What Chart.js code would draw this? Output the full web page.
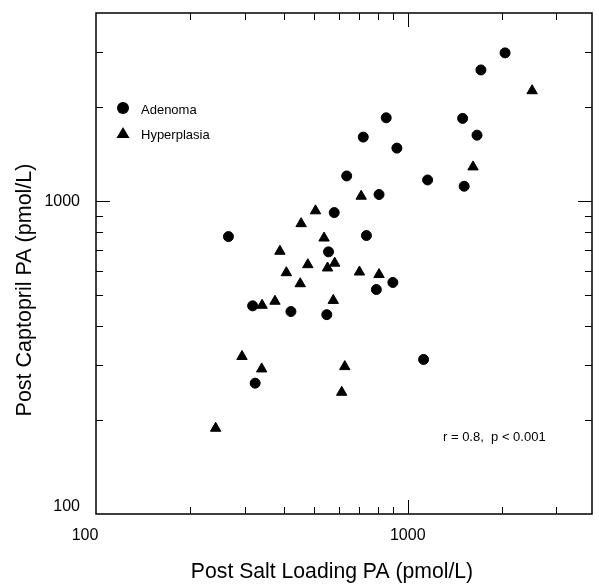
<!DOCTYPE html>
<html>
<head>
<meta charset="utf-8">
<title>Post Salt Loading PA vs Post Captopril PA</title>
<script src="https://cdn.jsdelivr.net/npm/chart.js@4.4.1/dist/chart.umd.min.js"></script>
<style>
    html, body { margin: 0; padding: 0; background: #fff; }
    #wrap { position: relative; width: 599px; height: 586px; }
</style>
</head>
<body>
<div id="wrap"><canvas id="paChart"></canvas></div>
<script>
// Adenoma patients (pmol/L)
const adenomaSalt = [266, 318, 422, 557, 550, 324, 581, 637, 737, 809, 720, 853, 923, 1158, 793, 896, 1124, 1500, 1668, 1517, 1717, 2052];
const adenomaCaptopril = [771, 463, 444, 689, 434, 262, 920, 1205, 777, 1051, 1604, 1849, 1479, 1170, 522, 550, 312, 1841, 1627, 1117, 2630, 2982];

// Hyperplasia patients (pmol/L)
const hyperplasiaSalt = [506, 455, 539, 389, 478, 553, 583, 408, 452, 341, 375, 709, 700, 809, 577, 294, 340, 242, 628, 614, 1620, 2506];
const hyperplasiaCaptopril = [932, 848, 763, 692, 627, 612, 634, 591, 545, 465, 479, 1038, 594, 583, 482, 319, 291, 188, 296, 245, 1288, 2257];

// Axis labels and text
const xTickLabels = [100, 1000];
const yTickLabels = [100, 1000];
const seriesNames = ["Adenoma", "Hyperplasia"];
const xTitle = "Post Salt Loading PA (pmol/L)";
const yTitle = "Post Captopril PA (pmol/L)";
const statsText = "r = 0.8,  p < 0.001";

const FONT = '"Liberation Sans", Arial, sans-serif';

// Frame, inward ticks, tick labels, titles, legend and stats text
const axisDecor = {
    id: "axisDecor",
    afterDatasetsDraw(chart) {
        const { ctx, chartArea: a, scales: { x, y } } = chart;
        ctx.save();
        ctx.strokeStyle = "#000";
        ctx.fillStyle = "#000";

        // box
        ctx.lineWidth = 1.5;
        ctx.strokeRect(a.left, a.top, a.right - a.left, a.bottom - a.top);

        // log ticks on all four sides, pointing in
        ctx.lineWidth = 1;
        ctx.beginPath();
        [100, 1000].forEach(decade => {
            for (let m = 1; m <= 9; m++) {
                const v = m * decade;
                const len = m === 1 ? 14 : 7;
                if (v > x.min && v < x.max) {
                    const px = Math.round(x.getPixelForValue(v)) + 0.5;
                    ctx.moveTo(px, a.bottom); ctx.lineTo(px, a.bottom - len);
                    ctx.moveTo(px, a.top); ctx.lineTo(px, a.top + len);
                }
                if (v > y.min && v < y.max) {
                    const py = Math.round(y.getPixelForValue(v)) + 0.5;
                    ctx.moveTo(a.left, py); ctx.lineTo(a.left + len, py);
                    ctx.moveTo(a.right, py); ctx.lineTo(a.right - len, py);
                }
            }
        });
        ctx.stroke();

        // tick labels
        ctx.font = "16px " + FONT;
        ctx.textBaseline = "middle";
        ctx.textAlign = "center";
        xTickLabels.forEach(v => {
            const shift = v === x.min ? -11 : 0;
            ctx.fillText(String(v), x.getPixelForValue(v) + shift, a.bottom + 22);
        });
        ctx.textAlign = "right";
        yTickLabels.forEach(v => {
            const shift = v === y.min ? -7 : 0;
            ctx.fillText(String(v), a.left - 16, y.getPixelForValue(v) + shift);
        });

        // axis titles
        ctx.font = "21.2px " + FONT;
        ctx.textAlign = "center";
        ctx.fillText(xTitle, 332, 572);
        ctx.save();
        ctx.translate(25, 290);
        ctx.rotate(-Math.PI / 2);
        ctx.font = "21.5px " + FONT;
        ctx.fillText(yTitle, 0, 0);
        ctx.restore();

        // legend
        ctx.beginPath();
        ctx.arc(123, 108, 6, 0, Math.PI * 2);
        ctx.fill();
        ctx.beginPath();
        ctx.moveTo(123, 127);
        ctx.lineTo(129.5, 138);
        ctx.lineTo(116.5, 138);
        ctx.closePath();
        ctx.fill();
        ctx.font = "13px " + FONT;
        ctx.textAlign = "left";
        ctx.fillText(seriesNames[0], 141, 110);
        ctx.fillText(seriesNames[1], 141, 135);

        // correlation
        ctx.fillText(statsText, 443, 437);
        ctx.restore();
    }
};

const ctx = document.getElementById("paChart").getContext("2d");
window.paChart = new Chart(ctx, {
    type: "scatter",
    data: {
        datasets: [
            {
                label: seriesNames[0],
                data: adenomaSalt.map((v, i) => ({ x: v, y: adenomaCaptopril[i] })),
                pointStyle: "circle",
                pointRadius: 5,
                borderWidth: 1,
                backgroundColor: "#000",
                borderColor: "#000",
            },
            {
                label: seriesNames[1],
                data: hyperplasiaSalt.map((v, i) => ({ x: v, y: hyperplasiaCaptopril[i] })),
                pointStyle: "triangle",
                pointRadius: 6,
                borderWidth: 1,
                backgroundColor: "#000",
                borderColor: "#000",
            },
        ],
    },
    options: {
        responsive: true,
        maintainAspectRatio: false,
        animation: false,
        layout: { padding: { left: 96, right: 2, top: 13, bottom: 72 } },
        plugins: {
            legend: { display: false },
            tooltip: { enabled: false },
        },
        scales: {
            x: { type: "logarithmic", min: 100, max: 3900, display: false },
            y: { type: "logarithmic", min: 100, max: 4000, display: false },
        },
    },
    plugins: [axisDecor],
});
</script>
</body>
</html>
